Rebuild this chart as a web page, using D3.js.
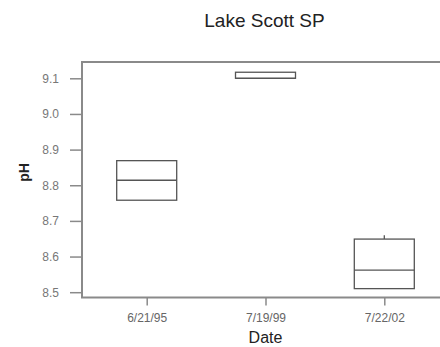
<!DOCTYPE html>
<html><head><meta charset="utf-8">
<script src="https://cdn.jsdelivr.net/npm/d3@7"></script>
<style>body{margin:0;background:#fff}svg{display:block;font-family:"Liberation Sans",Arial,sans-serif}</style>
</head><body><svg width="440" height="347"></svg>
<script>
const categories = ["6/21/95", "7/19/99", "7/22/02"];
const q1 = [8.758, 9.100, 8.510];
const median = [8.814, 9.100, 8.562];
const q3 = [8.869, 9.117, 8.649];
const whiskerLow = [8.758, 9.100, 8.510];
const whiskerHigh = [8.869, 9.117, 8.660];
const yTicks = [8.5, 8.6, 8.7, 8.8, 8.9, 9.0, 9.1];

(function () {
const svg = d3.select("svg");
const mLeft = 82, mRight = 445, mTop = 62, mBottom = 297.5;
const y = d3.scaleLinear().domain([8.5, 9.1]).range([292.2, 78.3]);
const x = d3.scalePoint().domain(categories).range([146.7, 384.3]);
const bw = 60;

// frame
svg.append("path").attr("d", `M${mRight},${mTop}H${mLeft}V${mBottom}H${mRight}`)
  .attr("fill", "none").attr("stroke", "#8a8a8a").attr("stroke-width", 2);

// y axis
const ya = svg.append("g").attr("transform", `translate(${mLeft},0)`)
  .call(d3.axisLeft(y).tickValues(yTicks).tickFormat(d3.format(".1f")).tickSize(12).tickPadding(11));
ya.select(".domain").remove();
ya.selectAll(".tick line").attr("stroke", "#8a8a8a").attr("stroke-width", 1.5);
ya.selectAll(".tick text").attr("fill", "#777").attr("font-size", 12).attr("font-family", "Liberation Sans, Arial, sans-serif");

// x axis
const xa = svg.append("g").attr("transform", `translate(0,${mBottom})`)
  .call(d3.axisBottom(x).tickSize(8).tickPadding(8));
xa.select(".domain").remove();
xa.selectAll(".tick line").attr("stroke", "#8a8a8a").attr("stroke-width", 1.5);
xa.selectAll(".tick text").attr("fill", "#666").attr("font-size", 12).attr("font-family", "Liberation Sans, Arial, sans-serif");

// boxes
const g = svg.append("g").attr("stroke", "#555").attr("stroke-width", 1.3).attr("fill", "none");
categories.forEach((c, i) => {
  const cx = x(c);
  g.append("line").attr("x1", cx).attr("x2", cx).attr("y1", y(whiskerHigh[i])).attr("y2", y(q3[i]));
  g.append("line").attr("x1", cx).attr("x2", cx).attr("y1", y(whiskerLow[i])).attr("y2", y(q1[i]));
  g.append("rect").attr("x", cx - bw / 2).attr("width", bw)
    .attr("y", y(q3[i])).attr("height", Math.max(0, y(q1[i]) - y(q3[i])));
  g.append("line").attr("x1", cx - bw / 2).attr("x2", cx + bw / 2).attr("y1", y(median[i])).attr("y2", y(median[i]));
});

// titles
svg.append("text").attr("x", 264.5).attr("y", 27).attr("text-anchor", "middle")
  .attr("font-size", 19).attr("fill", "#222").text("Lake Scott SP");
svg.append("text").attr("x", 265.5).attr("y", 343).attr("text-anchor", "middle")
  .attr("font-size", 16).attr("fill", "#222").text("Date");
svg.append("text").attr("transform", "translate(29,172.5) rotate(-90)").attr("text-anchor", "middle")
  .attr("font-size", 14).attr("font-weight", "bold").attr("fill", "#222").text("pH");
})();
</script></body></html>
